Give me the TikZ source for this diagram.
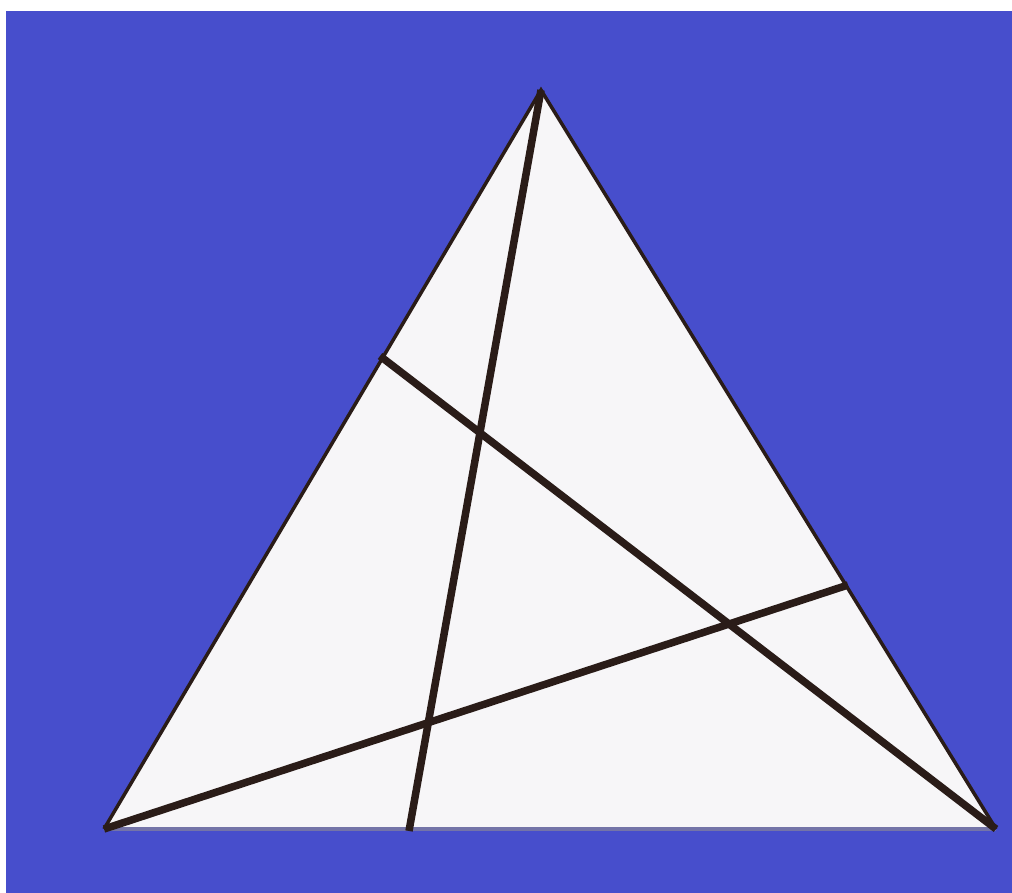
\documentclass[tikz,border=0pt]{standalone}
\definecolor{bg}{HTML}{474ECC}
\definecolor{tri}{HTML}{F7F6F8}
\definecolor{ink}{HTML}{2A1C18}
\definecolor{baseln}{HTML}{7474A8}
\begin{document}
\begin{tikzpicture}[x=1pt,y=-1pt,
  side/.style={draw=ink,line width=3.5pt,line join=miter},
  cevian/.style={draw=ink,line width=7.5pt,line cap=butt}]
\useasboundingbox (0,0) rectangle (1012,893);
\fill[white] (0,0) rectangle (1012,893);
\fill[bg] (6,11) rectangle (1012,893);
\coordinate (A) at (541,90);
\coordinate (B) at (104,829);
\coordinate (C) at (996,829);
\coordinate (P) at (380,356);
\coordinate (Q) at (848,585);
\coordinate (R) at (409,831);
\fill[tri] (A) -- (B) -- (C) -- cycle;
\draw[baseln,line width=3.5pt] (B) -- (C);
\draw[side] (B) -- (A) -- (C);
\draw[cevian] (A) -- (R);
\draw[cevian] (P) -- (C);
\draw[cevian] (B) -- (Q);
\end{tikzpicture}
\end{document}
